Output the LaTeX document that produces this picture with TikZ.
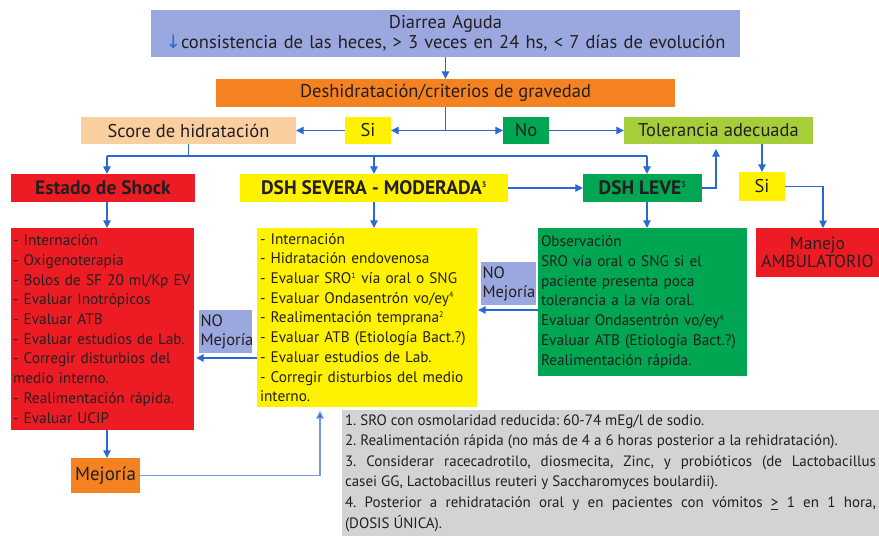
\documentclass[tikz,border=0pt]{standalone}
\usepackage{fontspec}
\setmainfont{PT Sans}
\newfontfamily\djv{DejaVu Sans}
\usetikzlibrary{arrows.meta}
\definecolor{periw}{RGB}{155,168,224}
\definecolor{orng}{RGB}{245,130,32}
\definecolor{peach}{RGB}{250,207,160}
\definecolor{yel}{RGB}{255,242,0}
\definecolor{grn}{RGB}{0,166,81}
\definecolor{lgrn}{RGB}{166,206,57}
\definecolor{rd}{RGB}{237,28,36}
\definecolor{gry}{RGB}{209,211,212}
\definecolor{arr}{RGB}{40,105,210}
\definecolor{larr}{RGB}{115,155,225}
\definecolor{txt}{RGB}{35,31,32}
\newcommand{\sups}[1]{\textsuperscript{\fontsize{8}{8}\selectfont #1}}
\begin{document}
\begin{tikzpicture}[x=1pt,y=-1pt,
  box/.style={inner xsep=3pt, inner ysep=0pt, text=txt, font=\fontsize{18.5}{20}\selectfont, align=center},
  listbox/.style={box, align=left, font=\fontsize{15.3}{19.7}\selectfont},
  hdr/.style={box, font=\bfseries\fontsize{19.5}{20}\selectfont},
  con/.style={draw=arr, line width=1.1pt},
  conarrow/.style={con, -{Triangle[length=7.5pt,width=7.5pt]}},
  lcon/.style={draw=larr, line width=1.1pt, -{Triangle[length=7.5pt,width=7.5pt,fill=arr]}}
]
\useasboundingbox (0,0) rectangle (879,536);
% top row
\node[box, fill=periw, minimum width=589pt, minimum height=47pt, text width=583pt] (top) at (445.5,33.5)
  {Diarrea Aguda\\{\djv\color{arr}\char"2193}consistencia de las heces, > 3 veces en 24 hs, < 7 días de evolución};
\node[box, fill=orng, minimum width=459pt, minimum height=28pt] (orange) at (445.5,93) {Deshidratación/criterios de gravedad};
\node[box, fill=peach, minimum width=215pt, minimum height=27pt] (score) at (188.5,130.5) {Score de hidratación};
\node[box, fill=yel, minimum width=46pt, minimum height=27pt] (si1) at (368,130.5) {Si};
\node[box, fill=grn, minimum width=46pt, minimum height=27pt] (no) at (526,130.5) {No};
\node[box, fill=lgrn, minimum width=189pt, minimum height=27pt] (tol) at (718.5,130.5) {Tolerancia adecuada};
% second row
\node[hdr, fill=rd, minimum width=184pt, minimum height=28pt] (shock) at (103,188) {Estado de Shock};
\node[hdr, fill=yel, minimum width=268pt, minimum height=28pt] (sev) at (374,188) {DSH SEVERA - MODERADA\sups{3}};
\node[hdr, fill=grn, minimum width=119pt, minimum height=28pt] (leve) at (642.5,188) {DSH LEVE\sups{3}};
\node[box, fill=yel, minimum width=46pt, minimum height=29pt] (si2) at (762,186.5) {Si};
% big boxes
\node[listbox, fill=rd, inner xsep=2pt, minimum height=202pt, text width=179pt] (redbox) at (102.5,329)
  {\mbox{- Internación}\\\mbox{- Oxigenoterapia}\\\mbox{- Bolos de SF 20 ml/Kp EV}\\\mbox{- Evaluar Inotrópicos}\\\mbox{- Evaluar ATB}\\\mbox{- Evaluar estudios de Lab.}\\\mbox{- Corregir disturbios del}\\\mbox{medio interno.}\\\mbox{- Realimentación rápida.}\\\mbox{- Evaluar UCIP}};
\node[listbox, fill=yel, minimum height=179pt, text width=214pt] (ybox) at (367,317.5)
  {- Internación\\- Hidratación endovenosa\\- Evaluar SRO\sups{1} vía oral o SNG\\- Evaluar Ondasentrón vo/ey\sups{4}\\- Realimentación temprana\sups{2}\\- Evaluar ATB (Etiología Bact.?)\\- Evaluar estudios de Lab.\\- Corregir disturbios del medio\\interno.};
\node[listbox, fill=grn, minimum height=148pt, text width=203pt] (gbox) at (642.5,302)
  {Observación\\SRO vía oral o SNG si el\\paciente presenta poca\\tolerancia a la vía oral.\\Evaluar Ondasentrón vo/ey\sups{4}\\Evaluar ATB (Etiología Bact.?)\\Realimentación rápida.};
\node[box, fill=rd, minimum height=49pt, text width=117pt, font=\fontsize{17.5}{18.5}\selectfont] (manejo) at (817.5,252.5) {Manejo\\AMBULATORIO};
\node[box, fill=periw, align=left, inner xsep=1.5pt, minimum height=43pt, text width=50pt, font=\fontsize{16.5}{19}\selectfont] (nom1) at (225.5,331.5) {NO\\Mejoría};
\node[box, fill=periw, align=left, inner xsep=1.5pt, minimum height=43pt, text width=52pt, font=\fontsize{16.5}{19}\selectfont] (nom2) at (508.5,283.5) {NO\\Mejoría};
\node[box, fill=orng, minimum width=69pt, minimum height=35pt, font=\fontsize{19}{20}\selectfont] (mej) at (105.5,475.5) {Mejoría};
\node[box, fill=gry, align=justify, minimum height=126pt, text width=531pt, font=\fontsize{15}{20.6}\selectfont\frenchspacing] (notes) at (610.5,473)
  {1. SRO con osmolaridad reducida: 60-74 mEg/l de sodio.\par
   2. Realimentación rápida (no más de 4 a 6 horas posterior a la rehidratación).\par
   3. Considerar racecadrotilo, diosmecita, Zinc, y probióticos (de Lactobacillus\linebreak casei GG, Lactobacillus reuteri y Saccharomyces boulardii).\par
   4. Posterior a rehidratación oral y en pacientes con vómitos \underline{>} 1 en 1 hora,\linebreak (DOSIS ÚNICA).\par};
% coordinates
\coordinate (j1) at (445.5,130.5);
\coordinate (hl) at (107,156);
\coordinate (hr) at (647,156);
\coordinate (a1) at (0,358);
\coordinate (a2) at (0,310);
\coordinate (up) at (320,407);
\coordinate (tu) at (716,144);
\coordinate (mt) at (823,228);
% connectors
\draw[conarrow] (top) -- (orange);
\draw[con] (orange.south) -- (j1);
\draw[conarrow] (j1) -- (si1);
\draw[conarrow] (j1) -- (no);
\draw[conarrow] (si1) -- (score);
\draw[conarrow] (no) -- (tol);
\draw[con] (score.south) -- (score.south |- hl);
\draw[con] (hl) -- (hr);
\draw[conarrow] (hl) -- (hl |- shock.north);
\draw[conarrow] (sev.north |- hl) -- (sev.north);
\draw[conarrow] (hr) -- (hr |- leve.north);
\draw[conarrow] (sev) -- (leve);
\draw[conarrow, shorten >=5pt] (leve.east) -| (tu);
\draw[conarrow] (tol.south -| si2.north) -- (si2.north);
\draw[conarrow] (si2.east) -| (mt);
\draw[conarrow] (hl |- shock.south) -- (hl |- redbox.north);
\draw[conarrow] (sev.south) -- (sev.south |- ybox.north);
\draw[conarrow] (hr |- leve.south) -- (hr |- gbox.north);
\draw[conarrow] (hl |- redbox.south) -- (hl |- mej.north);
\draw[lcon, shorten >=4pt] (mej.east) -| (up);
\draw[conarrow, shorten >=2pt] (ybox.west |- a1) -- (redbox.east |- a1);
\draw[conarrow, shorten >=1pt] (gbox.west |- a2) -- (ybox.east |- a2);
\end{tikzpicture}
\end{document}
